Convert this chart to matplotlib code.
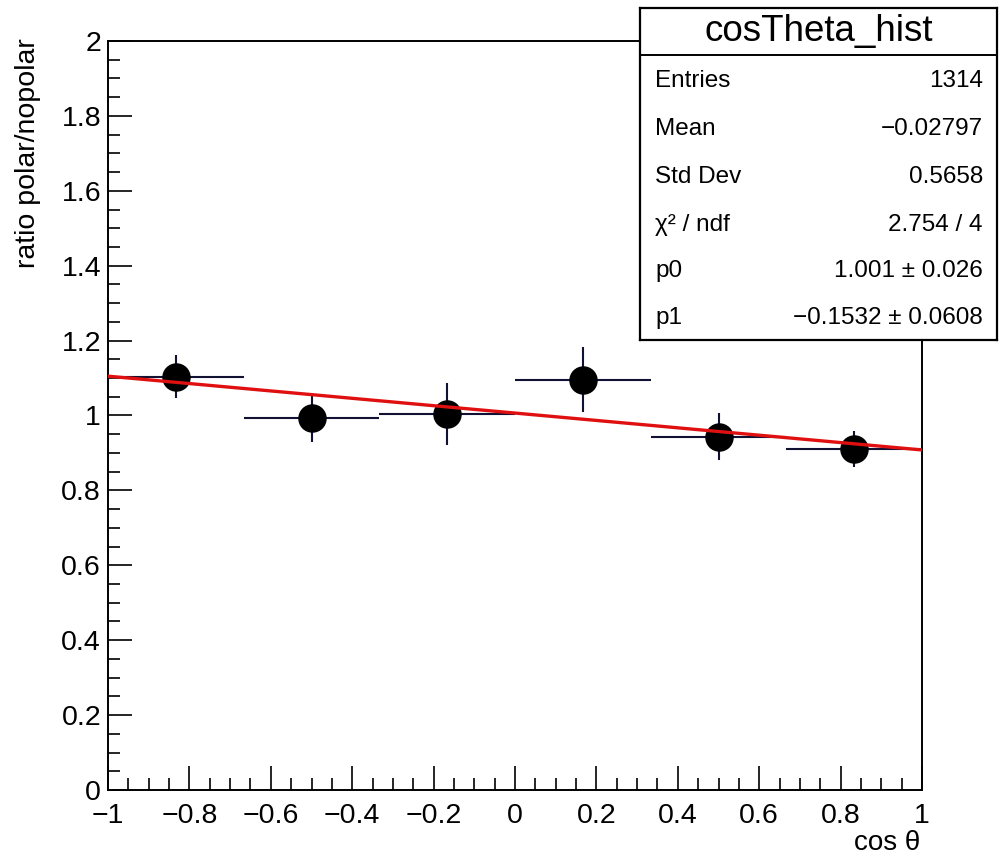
import matplotlib
matplotlib.use('Agg')
import matplotlib.pyplot as plt
from matplotlib.ticker import MultipleLocator
import matplotlib.transforms as mtransforms
import numpy as np

plt.rcParams['font.family'] = ['Liberation Sans', 'DejaVu Sans']

# histogram bins in cos(theta)
bin_edges = [-1.0, -2/3, -1/3, 0.0, 1/3, 2/3, 1.0]
ratio = [1.104, 0.993, 1.003, 1.096, 0.943, 0.910]
ratio_err = [0.058, 0.065, 0.083, 0.087, 0.063, 0.048]

# straight-line fit as drawn
fit_x = [-1.0, 1.0]
fit_y = [1.105, 0.908]

stat_names = ['Entries', 'Mean', 'Std Dev', 'χ² / ndf', 'p0', 'p1']
stat_values = ['1314', '\u22120.02797', '0.5658', '2.754 / 4',
               '1.001 ± 0.026', '\u22120.1532 ± 0.0608']

edges = np.array(bin_edges)
centers = 0.5 * (edges[:-1] + edges[1:])
halfw = 0.5 * (edges[1:] - edges[:-1])

fig = plt.figure(figsize=(9.99, 8.56), dpi=100, facecolor='w')
ax = fig.add_axes([108/999, 1 - 790/856, 814/999, 749/856])

ax.errorbar(centers, ratio, xerr=halfw, yerr=ratio_err, fmt='none',
            ecolor='#111133', elinewidth=1.5, capsize=0, zorder=2)
ax.plot(centers, ratio, 'o', color='k', markersize=19.5, zorder=3)
ax.plot(fit_x, fit_y, color='#e01010', lw=2.4, zorder=4)

ax.set_xlim(-1, 1)
ax.set_ylim(0, 2)
ax.xaxis.set_major_locator(MultipleLocator(0.2))
ax.xaxis.set_minor_locator(MultipleLocator(0.05))
ax.yaxis.set_major_locator(MultipleLocator(0.2))
ax.yaxis.set_minor_locator(MultipleLocator(0.05))
ax.tick_params(which='both', direction='in', top=False, right=False,
               width=1.2, labelsize=20.5)
ax.tick_params(which='major', length=17)
ax.tick_params(which='minor', length=8.5)
ax.tick_params(axis='x', pad=9.5)
ax.tick_params(axis='y', pad=5)
ax.xaxis.set_major_formatter(plt.FuncFormatter(
    lambda v, p: ('%g' % round(v, 2)).replace('-', '\u2212')))
ax.yaxis.set_major_formatter(plt.FuncFormatter(
    lambda v, p: '%g' % round(v, 2)))
for s in ax.spines.values():
    s.set_linewidth(1.4)

# nudge the bottom y label up a little, as ROOT does
fig.canvas.draw()
ylab0 = ax.get_yticklabels()[0]
ylab0.set_transform(ylab0.get_transform() +
                    mtransforms.ScaledTranslation(0, 3/100, fig.dpi_scale_trans))

ax.set_xlabel('cos θ', fontsize=20, loc='right', va='center')
ax.xaxis.set_label_coords(0.9975, -0.0705)
ax.set_ylabel('ratio polar/nopolar', fontsize=20.5, loc='top', va='center')
ax.yaxis.set_label_coords(-0.098, 1.004)

# stats box
sb = fig.add_axes([640/999, 1 - 340/856, 357/999, 332/856])
sb.set_xlim(0, 1)
sb.set_ylim(0, 1)
sb.set_xticks([])
sb.set_yticks([])
for s in sb.spines.values():
    s.set_linewidth(1.6)
sep = 1 - 47/332
sb.axhline(sep, color='k', lw=1.4)
sb.text(0.5, 1 - 23/332, 'cosTheta_hist', ha='center', va='center', fontsize=26.5)
row_y = [73, 121, 169, 217, 263, 310]
for name, val, yy in zip(stat_names, stat_values, row_y):
    sb.text(15/357, 1 - yy/332, name, ha='left', va='center', fontsize=17.5)
    sb.text(343/357, 1 - yy/332, val, ha='right', va='center', fontsize=17.5)

fig.savefig('out.png', dpi=100)
